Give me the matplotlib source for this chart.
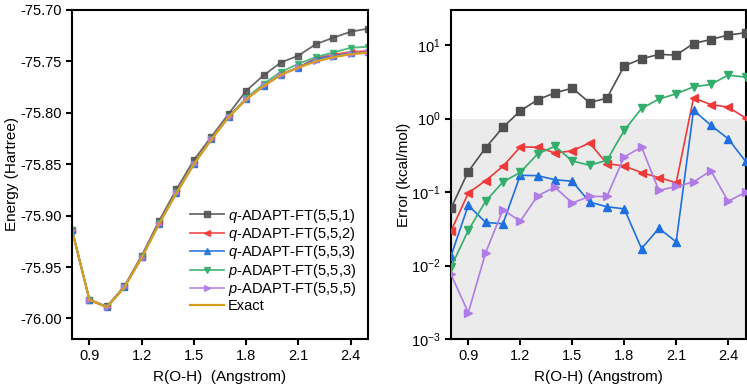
import numpy as np
import matplotlib
matplotlib.use("Agg")
import matplotlib.pyplot as plt

plt.rcParams['font.family'] = ['Liberation Sans', 'DejaVu Sans']
plt.rcParams['mathtext.fontset'] = 'custom'
plt.rcParams['mathtext.rm'] = 'Liberation Sans'
plt.rcParams['mathtext.it'] = 'Liberation Sans:italic'
plt.rcParams['axes.unicode_minus'] = False

# bond length R(O-H) in Angstrom
r_oh = [0.8, 0.9, 1.0, 1.1, 1.2, 1.3, 1.4, 1.5, 1.6, 1.7, 1.8, 1.9, 2.0, 2.1, 2.2, 2.3, 2.4, 2.5]

# energies (Hartree)
e_exact = [-75.914, -75.982, -75.989, -75.970, -75.941, -75.908, -75.878, -75.850, -75.826,
           -75.804, -75.787, -75.774, -75.763, -75.756, -75.750, -75.746, -75.743, -75.7415]
e_q551 = [-75.9139, -75.9817, -75.9884, -75.9688, -75.9390, -75.9051, -75.8744, -75.8459, -75.8234,
          -75.8010, -75.7787, -75.7636, -75.7511, -75.7444, -75.7333, -75.7270, -75.7212, -75.7181]
e_q552 = [-75.9140, -75.9818, -75.9888, -75.9696, -75.9403, -75.9074, -75.8775, -75.8494, -75.8253,
          -75.8036, -75.7866, -75.7737, -75.7627, -75.7558, -75.7470, -75.7435, -75.7407, -75.7399]
e_q553 = [-75.9140, -75.9819, -75.9889, -75.9699, -75.9407, -75.9077, -75.8778, -75.8498, -75.8259,
          -75.8039, -75.7869, -75.7740, -75.7629, -75.7560, -75.7479, -75.7447, -75.7422, -75.7411]
e_p553 = [-75.9140, -75.9820, -75.9889, -75.9698, -75.9407, -75.9075, -75.8773, -75.8496, -75.8256,
          -75.8036, -75.7859, -75.7718, -75.7601, -75.7525, -75.7457, -75.7414, -75.7368, -75.7357]
e_p555 = [-75.9140, -75.9820, -75.9890, -75.9699, -75.9409, -75.9079, -75.8778, -75.8499, -75.8259,
          -75.8039, -75.7865, -75.7733, -75.7628, -75.7558, -75.7498, -75.7457, -75.7429, -75.7413]

# errors (kcal/mol)
err_q551 = [0.060, 0.19, 0.40, 0.76, 1.27, 1.8, 2.24, 2.59, 1.65, 1.89, 5.2, 6.5, 7.46, 7.3, 10.5, 11.9, 13.7, 14.7]
err_q552 = [0.0294, 0.097, 0.143, 0.224, 0.41, 0.407, 0.34, 0.363, 0.466, 0.243, 0.226, 0.184, 0.157, 0.134,
            1.91, 1.55, 1.43, 1.02]
err_q553 = [0.0135, 0.066, 0.0386, 0.037, 0.169, 0.167, 0.147, 0.14, 0.073, 0.063, 0.059, 0.017, 0.032, 0.021,
            1.3, 0.81, 0.53, 0.262]
err_p553 = [0.0095, 0.030, 0.075, 0.137, 0.185, 0.33, 0.42, 0.265, 0.231, 0.27, 0.69, 1.37, 1.84, 2.17,
            2.7, 2.91, 3.9, 3.66]
err_p555 = [0.0076, 0.00228, 0.0149, 0.0575, 0.040, 0.089, 0.116, 0.071, 0.087, 0.087, 0.30, 0.41, 0.105, 0.119,
            0.137, 0.195, 0.075, 0.099]

labels = [r'$\it{q}$-ADAPT-FT(5,5,1)', r'$\it{q}$-ADAPT-FT(5,5,2)', r'$\it{q}$-ADAPT-FT(5,5,3)',
          r'$\it{p}$-ADAPT-FT(5,5,3)', r'$\it{p}$-ADAPT-FT(5,5,5)']
colors = ['#505050', '#f03a3a', '#1f6fe0', '#33ad6b', '#b07be6']
markers = ['s', '<', '^', 'v', '>']
exact_color = '#d6a01e'

fig = plt.figure(figsize=(7.47, 3.86), dpi=100)
ax1 = fig.add_axes([0.0964, 0.1218, 0.3962, 0.8523])
ax2 = fig.add_axes([0.6037, 0.1218, 0.3943, 0.8523])

energies = [e_q551, e_q552, e_q553, e_p553, e_p555]
for e, lab, c, m in zip(energies, labels, colors, markers):
    ax1.plot(r_oh, e, color=c, marker=m, markersize=5, lw=1.3, alpha=0.85, label=lab)
ax1.plot(r_oh, e_exact, color=exact_color, lw=1.6, label='Exact')

ax1.set_xlim(0.8, 2.5)
ax1.set_ylim(-76.02, -75.70)
ax1.set_xticks([0.9, 1.2, 1.5, 1.8, 2.1, 2.4])
ax1.set_yticks([-76.00, -75.95, -75.90, -75.85, -75.80, -75.75, -75.70])
ax1.yaxis.set_major_formatter(matplotlib.ticker.FormatStrFormatter('%.2f'))
ax1.set_xlabel('R(O-H)  (Angstrom)', fontsize=11, labelpad=5)
ax1.set_ylabel('Energy (Hartree)', fontsize=11, labelpad=1)
ax1.legend(loc='lower right', frameon=False, fontsize=10.5, handlelength=2.3, handletextpad=0.3,
           labelspacing=0.03, markerscale=0.8, bbox_to_anchor=(0.98, 0.062), borderaxespad=0)

errors = [err_q551, err_q552, err_q553, err_p553, err_p555]
ax2.axhspan(1e-3, 1.0, color='#ebebeb', zorder=0, lw=0)
for er, c, m in zip(errors, colors, markers):
    ax2.plot(r_oh, er, color=c, marker=m, markersize=6, lw=1.2, zorder=3)
ax2.set_yscale('log')
ax2.set_xlim(0.8, 2.5)
ax2.set_ylim(1e-3, 30)
ax2.set_xticks([0.9, 1.2, 1.5, 1.8, 2.1, 2.4])
ax2.yaxis.set_minor_locator(matplotlib.ticker.NullLocator())
ax2.set_xlabel('R(O-H) (Angstrom)', fontsize=11, labelpad=5)
ax2.set_ylabel('Error (kcal/mol)', fontsize=11, labelpad=0)

for ax in (ax1, ax2):
    for s in ax.spines.values():
        s.set_linewidth(1.5)
    ax.tick_params(direction='out', length=4, width=1.5, labelsize=10.5, top=False, right=False)

fig.savefig('out.png', dpi=100)
